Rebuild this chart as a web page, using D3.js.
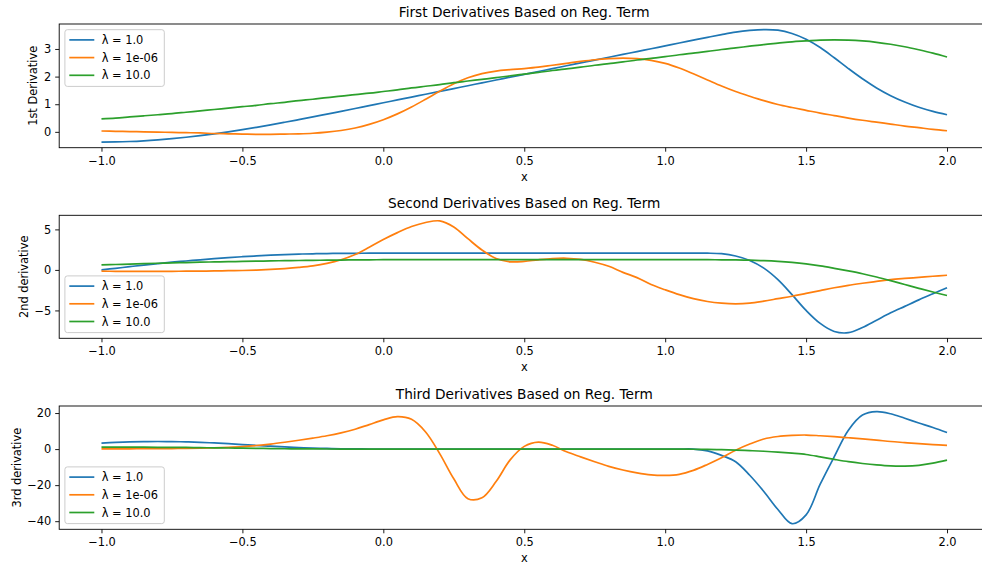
<!DOCTYPE html>
<html>
<head>
<meta charset="utf-8">
<script src="https://d3js.org/d3.v7.min.js"></script>
<style>
  html, body { margin: 0; padding: 0; background: #fff; }
  svg { display: block; font-family: "DejaVu Sans", sans-serif; }
</style>
</head>
<body>
<svg id="chart" width="982" height="566"></svg>
<script>
// Sample grid shared by every curve
const xs = [-1.00, -0.95, -0.90, -0.85, -0.80, -0.75, -0.70, -0.65, -0.60, -0.55,
            -0.50, -0.45, -0.40, -0.35, -0.30, -0.25, -0.20, -0.15, -0.10, -0.05,
             0.00,  0.05,  0.10,  0.15,  0.20,  0.25,  0.30,  0.35,  0.40,  0.45,
             0.50,  0.55,  0.60,  0.65,  0.70,  0.75,  0.80,  0.85,  0.90,  0.95,
             1.00,  1.05,  1.10,  1.15,  1.20,  1.25,  1.30,  1.35,  1.40,  1.45,
             1.50,  1.55,  1.60,  1.65,  1.70,  1.75,  1.80,  1.85,  1.90,  1.95,
             2.00];

const seriesLabels = ["λ = 1.0", "λ = 1e-06", "λ = 10.0"];
const seriesColors = ["#1f77b4", "#ff7f0e", "#2ca02c"];

// First derivative
const d1Lam1 = [-0.37, -0.365, -0.35, -0.325, -0.29, -0.247, -0.196, -0.137, -0.071, 0.0,
                0.08, 0.165, 0.254, 0.347, 0.443, 0.541, 0.642, 0.743, 0.846, 0.949,
                1.052, 1.155, 1.258, 1.361, 1.464, 1.567, 1.67, 1.773, 1.876, 1.979,
                2.082, 2.185, 2.288, 2.391, 2.494, 2.597, 2.70, 2.803, 2.906, 3.009,
                3.112, 3.215, 3.318, 3.421, 3.52, 3.61, 3.67, 3.70, 3.68, 3.56,
                3.35, 3.05, 2.68, 2.29, 1.92, 1.59, 1.31, 1.08, 0.89, 0.74,
                0.62];
const d1Lam1e6 = [0.03, 0.02, 0.01, 0.0, -0.01, -0.02, -0.03, -0.04, -0.06, -0.07,
                  -0.08, -0.09, -0.09, -0.08, -0.07, -0.05, -0.01, 0.05, 0.14, 0.27,
                  0.44, 0.65, 0.90, 1.18, 1.47, 1.74, 1.96, 2.11, 2.20, 2.25,
                  2.29, 2.34, 2.41, 2.48, 2.55, 2.61, 2.65, 2.67, 2.65, 2.59,
                  2.48, 2.31, 2.10, 1.88, 1.66, 1.46, 1.29, 1.13, 0.99, 0.88,
                  0.78, 0.68, 0.59, 0.50, 0.42, 0.35, 0.28, 0.21, 0.15, 0.09,
                  0.04];
const d1Lam10 = [0.47, 0.50, 0.54, 0.58, 0.62, 0.66, 0.71, 0.76, 0.81, 0.86,
                 0.91, 0.96, 1.02, 1.07, 1.13, 1.18, 1.24, 1.29, 1.35, 1.40,
                 1.46, 1.52, 1.59, 1.65, 1.71, 1.78, 1.84, 1.90, 1.96, 2.03,
                 2.09, 2.15, 2.22, 2.28, 2.34, 2.41, 2.47, 2.53, 2.60, 2.66,
                 2.72, 2.79, 2.85, 2.91, 2.98, 3.04, 3.10, 3.16, 3.21, 3.26,
                 3.29, 3.32, 3.33, 3.32, 3.29, 3.24, 3.17, 3.08, 2.97, 2.85,
                 2.71];

// Second derivative
const d2Lam1 = [0.0, 0.2, 0.4, 0.6, 0.78, 0.95, 1.1, 1.25, 1.39, 1.52,
                1.63, 1.73, 1.82, 1.89, 1.95, 1.99, 2.02, 2.04, 2.05, 2.06,
                2.06, 2.06, 2.06, 2.06, 2.06, 2.06, 2.06, 2.06, 2.06, 2.06,
                2.06, 2.06, 2.06, 2.06, 2.06, 2.06, 2.06, 2.06, 2.06, 2.06,
                2.06, 2.06, 2.06, 2.06, 2.0, 1.72, 1.17, 0.22, -1.2, -3.05,
                -5.0, -6.6, -7.6, -7.75, -7.1, -6.2, -5.3, -4.5, -3.7, -2.95,
                -2.2];
const d2Lam1e6 = [-0.16, -0.17, -0.18, -0.18, -0.18, -0.17, -0.16, -0.15, -0.13, -0.10,
                  -0.07, -0.02, 0.06, 0.17, 0.31, 0.5, 0.8, 1.25, 1.9, 2.8,
                  3.75, 4.6, 5.35, 5.85, 6.05, 5.3, 3.85, 2.45, 1.4, 1.0,
                  1.05, 1.25, 1.4, 1.44, 1.3, 0.95, 0.45, -0.3, -0.95, -1.8,
                  -2.45, -3.05, -3.55, -3.9, -4.1, -4.18, -4.1, -3.85, -3.55, -3.25,
                  -2.9, -2.55, -2.2, -1.9, -1.65, -1.42, -1.2, -1.05, -0.92, -0.78,
                  -0.66];
const d2Lam10 = [0.62, 0.67, 0.72, 0.77, 0.82, 0.87, 0.91, 0.95, 0.99, 1.02,
                 1.05, 1.08, 1.11, 1.14, 1.16, 1.18, 1.20, 1.22, 1.24, 1.25,
                 1.26, 1.26, 1.26, 1.26, 1.26, 1.26, 1.26, 1.26, 1.26, 1.26,
                 1.26, 1.26, 1.26, 1.26, 1.26, 1.26, 1.26, 1.26, 1.26, 1.26,
                 1.26, 1.26, 1.26, 1.26, 1.25, 1.23, 1.20, 1.14, 1.05, 0.92,
                 0.74, 0.50, 0.20, -0.12, -0.47, -0.88, -1.33, -1.80, -2.27, -2.73,
                 -3.16];

// Third derivative
const d3Lam1 = [3.3, 3.7, 4.0, 4.15, 4.2, 4.15, 4.0, 3.75, 3.4, 3.0,
                2.5, 2.0, 1.6, 1.2, 0.85, 0.55, 0.35, 0.2, 0.1, 0.05,
                0.0, 0.0, 0.0, 0.0, 0.0, 0.0, 0.0, 0.0, 0.0, 0.0,
                0.0, 0.0, 0.0, 0.0, 0.0, 0.0, 0.0, 0.0, 0.0, 0.0,
                0.0, 0.0, 0.0, -1.0, -3.5, -7.0, -14.5, -23.5, -33.5, -41.4,
                -36.5, -19.5, -4.2, 10.5, 18.9, 20.8, 19.6, 17.1, 14.5, 12.0,
                9.2];
const d3Lam1e6 = [0.1, 0.1, 0.15, 0.2, 0.25, 0.3, 0.4, 0.5, 0.7, 1.0,
                  1.4, 2.0, 2.8, 3.8, 4.9, 6.1, 7.4, 9.0, 11.0, 13.6,
                  16.2, 18.0, 16.5, 9.5, -2.5, -16.5, -27.5, -27.0, -18.0, -6.0,
                  1.5, 3.9, 2.1, -1.5, -4.3, -7.0, -9.6, -11.6, -13.2, -14.3,
                  -14.6, -14.0, -11.8, -8.5, -4.8, -0.6, 2.8, 5.6, 7.0, 7.6,
                  7.8, 7.4, 6.9, 6.3, 5.7, 5.0, 4.2, 3.6, 3.0, 2.5,
                  2.1];
const d3Lam10 = [1.1, 1.1, 1.1, 1.05, 1.0, 0.95, 0.9, 0.8, 0.7, 0.6,
                 0.5, 0.4, 0.3, 0.2, 0.15, 0.1, 0.05, 0.02, 0.0, 0.0,
                 0.0, 0.0, 0.0, 0.0, 0.0, 0.0, 0.0, 0.0, 0.0, 0.0,
                 0.0, 0.0, 0.0, 0.0, 0.0, 0.0, 0.0, 0.0, 0.0, 0.0,
                 0.0, -0.05, -0.1, -0.2, -0.35, -0.55, -0.85, -1.2, -1.65, -2.25,
                 -3.0, -4.3, -5.7, -7.0, -8.0, -8.8, -9.35, -9.45, -9.0, -7.8,
                 -6.1];

const xTicks = [-1.0, -0.5, 0.0, 0.5, 1.0, 1.5, 2.0];

const panels = [
  { title: "First Derivatives Based on Reg. Term", ylabel: "1st Derivative",
    series: [d1Lam1, d1Lam1e6, d1Lam10], yTicks: [0, 1, 2, 3],
    top: 24, bottom: 147.7, ylabelX: 37, legend: "upper" },
  { title: "Second Derivatives Based on Reg. Term", ylabel: "2nd derivative",
    series: [d2Lam1, d2Lam1e6, d2Lam10], yTicks: [-5, 0, 5],
    top: 215.3, bottom: 338.3, ylabelX: 27.5, legend: "lower" },
  { title: "Third Derivatives Based on Reg. Term", ylabel: "3rd derivative",
    series: [d3Lam1, d3Lam1e6, d3Lam10], yTicks: [-40, -20, 0, 20],
    top: 406, bottom: 529.3, ylabelX: 21, legend: "lower" }
];

const svg = d3.select("#chart");
const axLeft = 59.2, axRight = 989.3;
const tickFont = 11.4, titleFont = 13.7;
const fmtX = d3.format(".1f");
const fmtY = d3.format("d");

const x = d3.scaleLinear()
  .domain([-1 - 0.05 * 3, 2 + 0.05 * 3])
  .range([axLeft, axRight]);

panels.forEach((p, i) => {
  const all = p.series.flat();
  const [lo, hi] = d3.extent(all);
  const pad = (hi - lo) * 0.05;
  const y = d3.scaleLinear().domain([lo - pad, hi + pad]).range([p.bottom, p.top]);

  const g = svg.append("g");

  // clip region for the curves
  const clipId = "clip" + i;
  svg.append("clipPath").attr("id", clipId)
    .append("rect")
    .attr("x", axLeft).attr("y", p.top)
    .attr("width", axRight - axLeft).attr("height", p.bottom - p.top);

  // curves
  const line = d3.line()
    .x((d, k) => x(xs[k]))
    .y(d => y(d))
    .curve(d3.curveCatmullRom.alpha(0.5));

  const lines = g.append("g").attr("clip-path", `url(#${clipId})`);
  p.series.forEach((s, k) => {
    lines.append("path")
      .attr("d", line(s))
      .attr("fill", "none")
      .attr("stroke", seriesColors[k])
      .attr("stroke-width", 1.7)
      .attr("stroke-linejoin", "round")
      .attr("stroke-linecap", "butt");
  });

  // axes frame
  g.append("rect")
    .attr("x", axLeft).attr("y", p.top)
    .attr("width", axRight - axLeft).attr("height", p.bottom - p.top)
    .attr("fill", "none").attr("stroke", "#000").attr("stroke-width", 0.9);

  // x axis
  const xa = g.append("g")
    .attr("transform", `translate(0,${p.bottom})`)
    .call(d3.axisBottom(x).tickValues(xTicks).tickFormat(fmtX)
      .tickSize(4).tickPadding(5).tickSizeOuter(0));
  xa.select(".domain").remove();

  // y axis
  const ya = g.append("g")
    .attr("transform", `translate(${axLeft},0)`)
    .call(d3.axisLeft(y).tickValues(p.yTicks).tickFormat(fmtY)
      .tickSize(4).tickPadding(4).tickSizeOuter(0));
  ya.select(".domain").remove();

  [xa, ya].forEach(a => {
    a.selectAll(".tick line").attr("stroke", "#000").attr("stroke-width", 0.9);
    a.selectAll(".tick text")
      .attr("fill", "#000")
      .style("font-size", tickFont + "px")
      .style("font-family", "DejaVu Sans, sans-serif");
  });

  // title
  g.append("text")
    .attr("x", (axLeft + axRight) / 2).attr("y", p.top - 7)
    .attr("text-anchor", "middle")
    .style("font-size", titleFont + "px")
    .attr("fill", "#000")
    .text(p.title);

  // x label
  g.append("text")
    .attr("x", (axLeft + axRight) / 2).attr("y", p.bottom + 33)
    .attr("text-anchor", "middle")
    .style("font-size", tickFont + "px")
    .attr("fill", "#000")
    .text("x");

  // y label
  g.append("text")
    .attr("transform", `translate(${p.ylabelX},${(p.top + p.bottom) / 2}) rotate(-90)`)
    .attr("text-anchor", "middle")
    .style("font-size", tickFont + "px")
    .attr("fill", "#000")
    .text(p.ylabel);

  // legend
  const lgW = 99.4, lgH = 56.7, lgPad = 5.7;
  const lgX = axLeft + lgPad;
  const lgY = p.legend === "upper" ? p.top + lgPad : p.bottom - lgPad - lgH;
  const lg = g.append("g").attr("transform", `translate(${lgX},${lgY})`);
  lg.append("rect")
    .attr("width", lgW).attr("height", lgH)
    .attr("rx", 2.5).attr("ry", 2.5)
    .attr("fill", "#fff").attr("fill-opacity", 0.8)
    .attr("stroke", "#cccccc").attr("stroke-width", 1);
  seriesLabels.forEach((lab, k) => {
    const cy = 10.2 + k * 17.7;
    lg.append("line")
      .attr("x1", 4.4).attr("x2", 29.4)
      .attr("y1", cy).attr("y2", cy)
      .attr("stroke", seriesColors[k]).attr("stroke-width", 1.7);
    lg.append("text")
      .attr("x", 36.8).attr("y", cy).attr("dy", "0.36em")
      .style("font-size", tickFont + "px")
      .attr("fill", "#000")
      .text(lab);
  });
});
</script>
</body>
</html>
